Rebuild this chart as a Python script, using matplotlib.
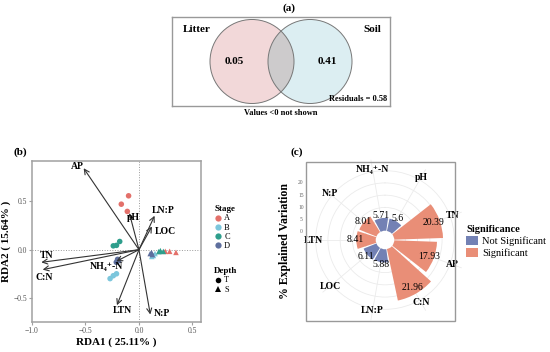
import numpy as np
import matplotlib.pyplot as plt
from matplotlib.patches import Circle, Ellipse, Rectangle, Patch
from matplotlib.lines import Line2D

plt.rcParams['font.family'] = ['Liberation Serif', 'DejaVu Serif']

# ---- (a) variation partitioning
venn_sets = ['Litter', 'Soil']
venn_unique = [0.05, 0.41]
venn_resid = 0.58
venn_colors = ['#F2D8D9', '#DCEEF2']

# ---- (b) RDA
env_names = ['AP', 'pH', 'LN:P', 'LOC', 'TN', 'C:N', 'NH\u2084\u207a-N', 'LTN', 'N:P']
env_x = [-0.517, -0.09, 0.146, 0.121, -0.913, -0.900, -0.212, -0.206, 0.106]
env_y = [0.845, 0.380, 0.352, 0.241, -0.131, -0.207, -0.121, -0.576, -0.672]
lab_x = [-0.575, -0.050, 0.225, 0.250, -0.862, -0.885, -0.300, -0.150, 0.215]
lab_y = [0.865, 0.330, 0.410, 0.190, -0.060, -0.290, -0.170, -0.630, -0.665]

stages = ['A', 'B', 'C', 'D']
stage_colors = ['#E3706A', '#7CC6DC', '#2E9E8C', '#5E6F9E']
site_stage = ['A'] * 6 + ['B'] * 6 + ['C'] * 6 + ['D'] * 6
site_depth = (['T'] * 3 + ['S'] * 3) * 4
site_x = [-0.097, -0.165, -0.109, 0.246, 0.287, 0.346,
          -0.270, -0.240, -0.210, 0.120, 0.135, 0.150,
          -0.240, -0.210, -0.180, 0.185, 0.200, 0.228,
          -0.200, -0.212, -0.190, 0.105, 0.118, 0.125]
site_y = [0.559, 0.472, 0.397, -0.017, -0.017, -0.028,
          -0.300, -0.270, -0.250, -0.070, -0.060, -0.040,
          0.040, 0.045, 0.085, -0.020, -0.010, -0.018,
          -0.100, -0.130, -0.115, -0.040, -0.030, -0.050]

# ---- (c) explained variation
vc_names = ['NH\u2084\u207a-N', 'pH', 'TN', 'AP', 'C:N', 'LN:P', 'LOC', 'LTN', 'N:P']
vc_vals = [5.71, 5.6, 20.39, 17.93, 21.96, 5.88, 6.11, 8.41, 8.01]
vc_sig = ['Not Significant', 'Not Significant', 'Significant', 'Significant', 'Significant',
          'Not Significant', 'Not Significant', 'Significant', 'Significant']
sig_colors = {'Not Significant': '#7381B4', 'Significant': '#E98E77'}

W, H = 550, 352
fig = plt.figure(figsize=(5.5, 3.52), dpi=100)


def fx(px):
    return px / W


def fy(py):
    return 1 - py / H


# ================= (a) =================
ax_a = fig.add_axes([fx(172), fy(106), fx(218), (106 - 17) / H])
ax_a.set_xlim(0, 218)
ax_a.set_ylim(0, 89)
for s in ax_a.spines.values():
    s.set_color('#999999')
    s.set_linewidth(1)
ax_a.set_xticks([])
ax_a.set_yticks([])
r = 42
cx = [80, 138]
for c, col in zip(cx, venn_colors):
    ax_a.add_patch(Circle((c, 44.5), r, facecolor=col, edgecolor='none', zorder=1))
# overlap shading
clip = Circle((cx[0], 44.5), r, transform=ax_a.transData)
ov = Circle((cx[1], 44.5), r, facecolor='#CDCBCC', edgecolor='none', zorder=2)
ax_a.add_patch(ov)
ov.set_clip_path(clip)
for c in cx:
    ax_a.add_patch(Circle((c, 44.5), r, facecolor='none', edgecolor='#777777', lw=0.7, zorder=3))
ax_a.text(25, 77, venn_sets[0], ha='center', va='center', fontsize=8, fontweight='bold')
ax_a.text(200, 77, venn_sets[1], ha='center', va='center', fontsize=8, fontweight='bold')
ax_a.text(cx[0] - 18, 44, f'{venn_unique[0]:.2f}', ha='center', va='center', fontsize=8, fontweight='bold')
ax_a.text(cx[1] + 17, 44, f'{venn_unique[1]:.2f}', ha='center', va='center', fontsize=8, fontweight='bold')
ax_a.text(215, 7, f'Residuals = {venn_resid:.2f}', ha='right', va='center', fontsize=6, fontweight='bold')
fig.text(fx(281), fy(113), 'Values <0 not shown', ha='center', va='center', fontsize=6, fontweight='bold')
fig.text(fx(289), fy(8), '(a)', ha='center', va='center', fontsize=8, fontweight='bold')

# ================= (b) =================
ax_b = fig.add_axes([fx(32), fy(322), fx(169), (322 - 161) / H])
ax_b.axhline(0, color='#999999', ls=':', lw=0.7, zorder=0)
ax_b.axvline(0, color='#999999', ls=':', lw=0.7, zorder=0)
for st, col in zip(stages, stage_colors):
    for dp, mk in [('T', 'o'), ('S', '^')]:
        idx = [i for i in range(len(site_x)) if site_stage[i] == st and site_depth[i] == dp]
        ax_b.scatter([site_x[i] for i in idx], [site_y[i] for i in idx], s=16, marker=mk,
                     color=col, edgecolor='none', zorder=2)
for name, x, y, lx, ly in zip(env_names, env_x, env_y, lab_x, lab_y):
    ax_b.annotate('', xy=(x, y), xytext=(0, 0),
                  arrowprops=dict(arrowstyle='->', color='#333333', lw=0.8,
                                  mutation_scale=9, shrinkA=0, shrinkB=0), zorder=3)
    ax_b.text(lx, ly, name, ha='center', va='center', fontsize=7, fontweight='bold', zorder=4)
ax_b.set_xlim(-1.0, 0.58)
ax_b.set_ylim(-0.75, 0.92)
for s in ax_b.spines.values():
    s.set_color('#A0A0A0')
    s.set_linewidth(1.1)
ax_b.set_xticks([-1.0, -0.5, 0.0, 0.5])
ax_b.set_yticks([-0.5, 0.0, 0.5])
ax_b.tick_params(colors='#A0A0A0', labelcolor='#555555', labelsize=5.5, length=2, width=0.8, pad=1.5)
ax_b.set_xlabel('RDA1 ( 25.11% )', fontsize=8, fontweight='bold', labelpad=2)
ax_b.set_ylabel('RDA2 ( 15.64% )', fontsize=8, fontweight='bold', labelpad=2)
fig.text(fx(20), fy(152), '(b)', ha='center', va='center', fontsize=8, fontweight='bold')

stage_h = [Line2D([], [], marker='o', ls='', color=c, markersize=4.5, markeredgewidth=0) for c in stage_colors]
leg1 = fig.legend(stage_h, stages, title='Stage', loc='upper left', bbox_to_anchor=(fx(210), fy(201)),
                  frameon=False, fontsize=6, title_fontsize=6.5, handlelength=0.8, handletextpad=0.4,
                  labelspacing=0.15, borderpad=0, alignment='left')
leg1.get_title().set_fontweight('bold')
depth_h = [Line2D([], [], marker=m, ls='', color='black', markersize=4, markeredgewidth=0) for m in ['o', '^']]
leg2 = fig.legend(depth_h, ['T', 'S'], title='Depth', loc='upper left', bbox_to_anchor=(fx(210), fy(263)),
                  frameon=False, fontsize=6, title_fontsize=6.5, handlelength=0.8, handletextpad=0.4,
                  labelspacing=0.15, borderpad=0, alignment='left')
leg2.get_title().set_fontweight('bold')

# ================= (c) =================
r0 = 3.3
rmax = 30
px_per = 2.45
Rpx = (rmax + r0) * px_per
ccx, ccy = 385, 240
ax_c = fig.add_axes([fx(ccx - Rpx), fy(ccy + Rpx), 2 * Rpx / W, 2 * Rpx / H], projection='polar')
ax_c.set_theta_zero_location('N')
ax_c.set_theta_direction(-1)
theta = np.deg2rad((-10 + 40 * np.arange(len(vc_names))) % 360)
ax_c.bar(theta, vc_vals, width=np.deg2rad(36), bottom=0,
         color=[sig_colors[s] for s in vc_sig], edgecolor='none', zorder=2)
ax_c.set_thetalim(0, 2 * np.pi)
ax_c.set_ylim(0, rmax)
ax_c.set_rorigin(-r0)
ax_c.set_xticks(theta)
ax_c.set_xticklabels([])
ax_c.set_yticks([0, 5, 10, 15, 20, 25])
ax_c.set_yticklabels([])
ax_c.tick_params(axis='both', length=0, width=0)
ax_c.grid(color='#EBEBEB', lw=0.6)
for sp in ax_c.spines.values():
    sp.set_visible(False)
ax_c.patch.set_alpha(0)
for t, v, name in zip(theta, vc_vals, vc_names):
    ax_c.text(t, 26, name, ha='center', va='center', fontsize=7, fontweight='bold', zorder=4)
    ax_c.text(t, 0.75 * v + 2.5, f'{v:g}', ha='center', va='center', fontsize=7, zorder=4)
# white centre hole
hole = r0 * px_per + 1.2
fig.add_artist(Ellipse((fx(ccx), fy(ccy)), 2 * hole / W, 2 * hole / H, transform=fig.transFigure,
                       facecolor='white', edgecolor='none', zorder=10))
fig.add_artist(Rectangle((fx(306), fy(321)), fx(149), (321 - 162) / H, transform=fig.transFigure,
                         facecolor='none', edgecolor='#999999', lw=1))
inv = fig.transFigure.inverted()
for v in [0, 5, 10, 15, 20]:
    _, yf = inv.transform(ax_c.transData.transform((0, v)))
    fig.text(fx(301), yf, str(v), ha='center', va='center', fontsize=4, color='#666666')
fig.text(fx(285), fy(241), '% Explained Variation', rotation=90, ha='center', va='center',
         fontsize=8.5, fontweight='bold')
fig.text(fx(297), fy(152), '(c)', ha='center', va='center', fontsize=8, fontweight='bold')

sig_h = [Patch(facecolor=sig_colors[k], edgecolor='none') for k in ['Not Significant', 'Significant']]
leg3 = fig.legend(sig_h, ['Not Significant', 'Significant'], title='Significance', loc='upper left',
                  bbox_to_anchor=(fx(461), fy(220)), frameon=False, fontsize=7.5, title_fontsize=7.5,
                  handlelength=1.1, handleheight=1.0, handletextpad=0.4, labelspacing=0.15,
                  borderpad=0, alignment='left')
leg3.get_title().set_fontweight('bold')

fig.savefig('out.png', dpi=100)
